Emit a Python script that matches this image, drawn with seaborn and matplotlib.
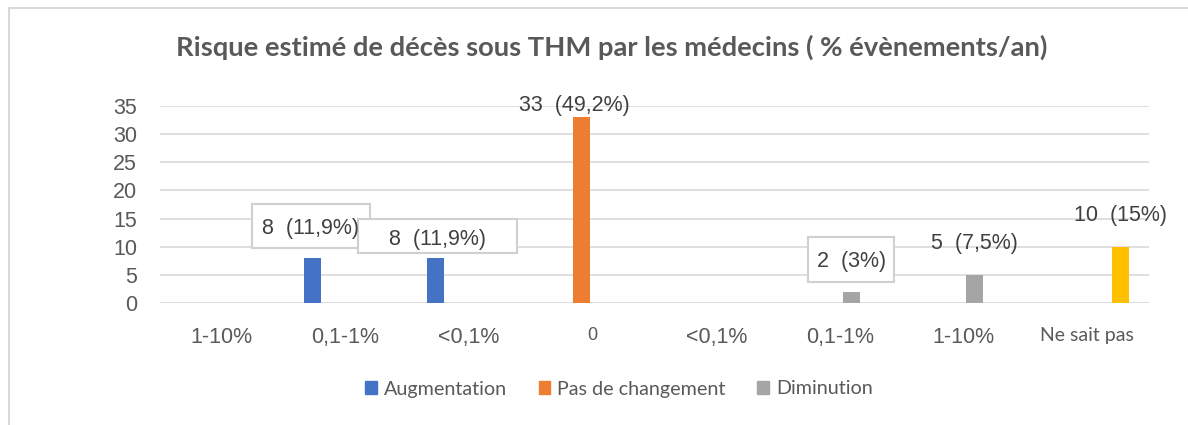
import matplotlib
matplotlib.use('Agg')
import matplotlib.pyplot as plt
import matplotlib.patches as mpatches
import seaborn as sns
import pandas as pd

# categories on the x axis (some labels repeat, so positions are used as keys)
categories = ['1-10%', '0,1-1%', '<0,1%', '0', '<0,1%', '0,1-1%', '1-10%', 'Ne sait pas']
positions = list(range(len(categories)))

# number of doctors per answer, one list per group
augmentation = [0, 8, 8, 0, 0, 0, 0, 0]
pas_de_changement = [0, 0, 0, 33, 0, 0, 0, 0]
diminution = [0, 0, 0, 0, 0, 2, 5, 0]
ne_sait_pas = [0, 0, 0, 0, 0, 0, 0, 10]

# percentages shown next to the counts
pct_augmentation = ['', '11,9%', '11,9%', '', '', '', '', '']
pct_pas_de_changement = ['', '', '', '49,2%', '', '', '', '']
pct_diminution = ['', '', '', '', '', '3%', '7,5%', '']
pct_ne_sait_pas = ['', '', '', '', '', '', '', '15%']

groups = ['Augmentation', 'Pas de changement', 'Diminution', 'Ne sait pas']
colors = ['#4472C4', '#ED7D31', '#A5A5A5', '#FFC000']

title = 'Risque estimé de décès sous THM par les médecins ( % évènements/an)'

# build a long table for seaborn
rows = []
for g, vals, pcts in zip(groups,
                         [augmentation, pas_de_changement, diminution, ne_sait_pas],
                         [pct_augmentation, pct_pas_de_changement, pct_diminution, pct_ne_sait_pas]):
    for p, v, pc in zip(positions, vals, pcts):
        rows.append({'pos': p, 'n': v, 'groupe': g, 'pct': pc})
df = pd.DataFrame(rows)

sns.set_style('white')
plt.rcParams['font.family'] = ['Liberation Sans', 'DejaVu Sans']

fig = plt.figure(figsize=(11.88, 4.25), dpi=100)
ax = fig.add_axes([160 / 1188, 1 - 303 / 425, 989 / 1188, 197 / 425])

sns.barplot(data=df, x='pos', y='n', hue='groupe', hue_order=groups,
            palette=colors, saturation=1, width=0.72, gap=0.24,
            linewidth=0, errorbar=None, ax=ax, legend=False, zorder=3)

ax.set_xlim(-0.5, 7.5)
ax.set_ylim(0, 35)
ax.set_yticks(range(0, 36, 5))
ax.set_xticks(positions)
ax.set_xticklabels(categories)
ax.set_xlabel('')
ax.set_ylabel('')
ax.yaxis.grid(True, color='#D9D9D9', linewidth=1.2, zorder=0)
ax.set_axisbelow(True)
for s in ax.spines.values():
    s.set_visible(False)
ax.tick_params(axis='y', length=0, pad=16.5, labelsize=15.5, labelcolor='#595959')
ax.tick_params(axis='x', length=0, pad=17, labelsize=15.5, labelcolor='#595959')
ax.get_xticklabels()[-1].set_fontfamily(['Lato', 'DejaVu Sans'])
ax.get_xticklabels()[-1].set_fontsize(14)
ax.get_xticklabels()[3].set_fontsize(13)

# data labels: (x shift, y position above bar, boxed?, box width, box height, box centre)
label_style = {
    (0, 1): (-0.01, 5.3, True, 0.95, 7.8, 5.7),
    (0, 2): (0.015, 3.2, True, 1.29, 6.2, 3.9),
    (1, 3): (-0.06, 2.0, False, 0, 0, 0),
    (2, 5): (0.0, 5.3, True, 0.70, 8.0, 5.8),
    (2, 6): (0.0, 5.5, False, 0, 0, 0),
    (3, 7): (0.0, 5.5, False, 0, 0, 0),
}
pct_lists = [pct_augmentation, pct_pas_de_changement, pct_diminution, pct_ne_sait_pas]
for gi, cont in enumerate(ax.containers):
    for pi, bar in enumerate(cont):
        if (gi, pi) not in label_style:
            continue
        dx, dy, boxed, bw, bh, by = label_style[(gi, pi)]
        h = bar.get_height()
        xc = bar.get_x() + bar.get_width() / 2 + dx
        txt = '%d  (%s)' % (h, pct_lists[gi][pi])
        ax.text(xc, h + dy, txt, ha='center', va='center', fontsize=15.5,
                color='#404040', zorder=6, clip_on=False)
        if boxed:
            ax.add_patch(mpatches.Rectangle((xc - bw / 2, h + by - bh / 2), bw, bh,
                                            facecolor='white', edgecolor='#D0D0D0',
                                            linewidth=1.5, zorder=5, clip_on=False))

# legend without the "Ne sait pas" group
handles = [mpatches.Patch(color=c, label=g) for g, c in zip(groups[:3], colors[:3])]
fig.legend(handles=handles, loc='center', bbox_to_anchor=(619 / 1188, 1 - 389 / 425),
           ncol=3, frameon=False, handlelength=0.6, handleheight=0.6,
           handletextpad=0.35, columnspacing=1.6,
           prop={'family': ['Lato', 'DejaVu Sans'], 'size': 14.2},
           labelcolor='#595959')

fig.text(612 / 1188, 1 - 47 / 425, title, ha='center', va='center',
         fontsize=19.7, fontweight='bold', color='#595959', family=['Lato', 'DejaVu Sans'])

# light frame of the chart area
fig.add_artist(mpatches.Rectangle((9 / 1188, -0.05), 1.2, 1 - 8 / 425 + 0.05,
                                  transform=fig.transFigure, fill=False,
                                  edgecolor='#D9D9D9', linewidth=1.5))

fig.savefig('out.png', dpi=100)
